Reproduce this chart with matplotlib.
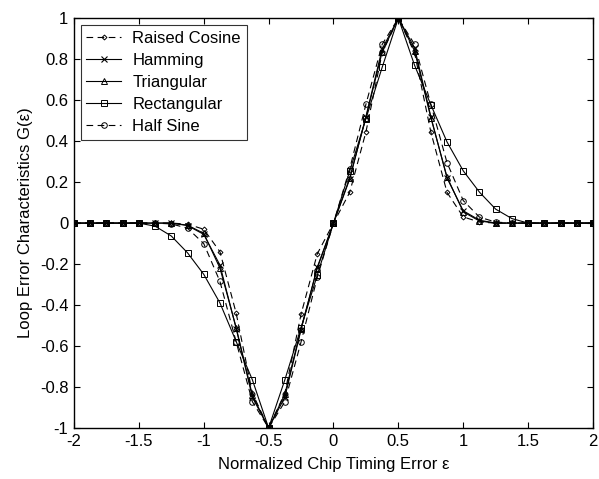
import matplotlib
matplotlib.use('Agg')
import matplotlib.pyplot as plt
import numpy as np

plt.rcParams['font.family'] = ['Liberation Sans', 'DejaVu Sans']

# timing error samples, step 1/8
eps = [-2.0, -1.875, -1.75, -1.625, -1.5, -1.375, -1.25, -1.125, -1.0, -0.875, -0.75, -0.625, -0.5,
       -0.375, -0.25, -0.125, 0.0, 0.125, 0.25, 0.375, 0.5, 0.625, 0.75, 0.875, 1.0,
       1.125, 1.25, 1.375, 1.5, 1.625, 1.75, 1.875, 2.0]

raised_cosine = [0, 0, 0, 0, 0, 0, 0, -0.005, -0.03, -0.14, -0.44, -0.83, -1,
                 -0.83, -0.445, -0.15, 0, 0.15, 0.445, 0.83, 1, 0.83, 0.445, 0.15, 0.03,
                 0.005, 0, 0, 0, 0, 0, 0, 0]
hamming = [0, 0, 0, 0, 0, 0, 0, -0.012, -0.055, -0.205, -0.515, -0.85, -1,
           -0.85, -0.52, -0.215, 0, 0.215, 0.52, 0.85, 1, 0.855, 0.52, 0.22, 0.06,
           0.014, 0, 0, 0, 0, 0, 0, 0]
triangular = [0, 0, 0, 0, 0, 0, 0, -0.01, -0.05, -0.22, -0.51, -0.84, -1,
              -0.835, -0.515, -0.22, 0, 0.22, 0.515, 0.835, 1, 0.84, 0.515, 0.225, 0.055,
              0.01, 0, 0, 0, 0, 0, 0, 0]
rectangular = [0, 0, 0, 0, 0, -0.015, -0.063, -0.145, -0.25, -0.39, -0.578, -0.765, -1,
               -0.765, -0.51, -0.254, 0, 0.254, 0.51, 0.76, 1, 0.77, 0.578, 0.396, 0.255,
               0.151, 0.068, 0.022, 0, 0, 0, 0, 0]
half_sine = [0, 0, 0, 0, 0, 0, -0.004, -0.025, -0.1, -0.285, -0.58, -0.872, -1,
             -0.872, -0.58, -0.265, 0, 0.265, 0.58, 0.872, 1, 0.872, 0.58, 0.295, 0.11,
             0.029, 0.005, 0, 0, 0, 0, 0, 0]

xticks = [-2, -1.5, -1, -0.5, 0, 0.5, 1, 1.5, 2]
yticks = [-1, -0.8, -0.6, -0.4, -0.2, 0, 0.2, 0.4, 0.6, 0.8, 1]

fig = plt.figure(figsize=(5.99, 4.79), dpi=100)
ax = fig.add_axes([0.1235, 0.1065, 0.8665, 0.8555])

lw = 0.8
ms = 4
ax.plot(eps, raised_cosine, 'k--', marker='D', ms=2.5, mfc='none', lw=lw, mew=0.7, dashes=(6, 4), label='Raised Cosine')
ax.plot(eps, hamming, 'k-', marker='x', ms=ms, lw=lw, mew=0.8, label='Hamming')
ax.plot(eps, triangular, 'k-', marker='^', ms=ms, mfc='none', lw=lw, mew=0.7, label='Triangular')
ax.plot(eps, rectangular, 'k-', marker='s', ms=ms, mfc='none', lw=lw, mew=0.7, label='Rectangular')
ax.plot(eps, half_sine, 'k--', marker='o', ms=ms, mfc='none', lw=lw, mew=0.7, dashes=(6, 4), label='Half Sine')

ax.set_xlim(-2, 2)
ax.set_ylim(-1, 1)
ax.set_xticks(xticks)
ax.set_xticklabels(['%g' % t for t in xticks])
ax.set_yticks(yticks)
ax.set_yticklabels(['%g' % t for t in yticks])
ax.tick_params(direction='in', top=True, right=True, length=4, width=0.8, labelsize=12, pad=4)
for s in ax.spines.values():
    s.set_linewidth(1.0)

ax.set_xlabel('Normalized Chip Timing Error ε', fontsize=12, labelpad=6)
ax.set_ylabel('Loop Error Characteristics G(ε)', fontsize=12, labelpad=5)

leg = ax.legend(loc='upper left', fontsize=12, frameon=True, fancybox=False, edgecolor='k',
                handlelength=2.1, borderaxespad=0.4, labelspacing=0.42, handletextpad=0.65,
                borderpad=0.35)
leg.get_frame().set_linewidth(0.8)

fig.savefig('out.png', dpi=100)
